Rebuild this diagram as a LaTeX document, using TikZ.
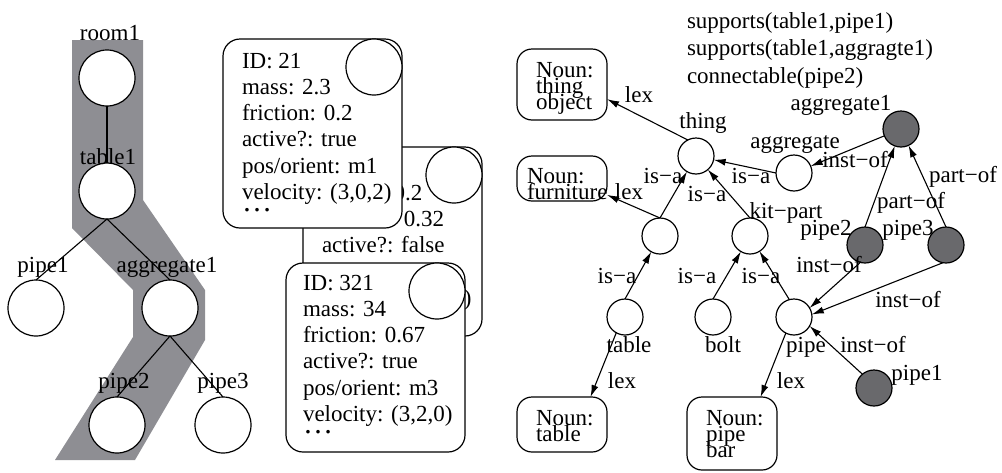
\documentclass[tikz,border=0pt]{standalone}
\usepackage{fontspec}
\setmainfont{Liberation Serif}
\usetikzlibrary{arrows.meta}
\definecolor{band}{RGB}{142,142,147}
\definecolor{dark}{RGB}{105,105,108}
\newcommand{\tightlines}{\lineskiplimit=-100pt\relax}
\newcommand{\mydots}{{\fontsize{30}{30}\selectfont\ldots}}
\begin{document}
\begin{tikzpicture}[x=1pt,y=-1pt,
  every node/.style={inner sep=0pt, outer sep=0pt},
  txt/.style={font=\fontsize{23}{26.3}\selectfont\tightlines},
  lbl/.style={txt, anchor=base},
  bigc/.style={circle, draw, fill=white, line width=1.2pt, minimum size=56pt},
  smc/.style={circle, draw, fill=white, line width=1.2pt, minimum size=36pt},
  dkc/.style={smc, fill=dark},
  card/.style={draw, fill=white, rounded corners=17pt, line width=1.2pt, minimum width=179pt, minimum height=189pt, anchor=north west},
  cardtxt/.style={txt, align=left, anchor=base west},
  nbox/.style={draw, rounded corners=15pt, line width=1.2pt, minimum width=90pt, anchor=north west},
  ntxt/.style={font=\fontsize{23}{16}\selectfont\tightlines, align=left, anchor=base west},
  facts/.style={font=\fontsize{23}{27.5}\selectfont\tightlines, align=left, anchor=base west},
  arr/.style={-{Latex[length=12pt,width=7pt]}, line width=1.1pt},
  ln/.style={line width=1.1pt}
]
\useasboundingbox (0,0) rectangle (1002,472);

% ---------- left tree ----------
\fill[band] (72,40) -- (143,40) -- (143,200) -- (205,290) -- (205,340) -- (135,460)
  -- (55,460) -- (133,337) -- (133,290) -- (72,228) -- cycle;

\node[bigc] (room1) at (107,78) {};
\node[bigc] (table1) at (107,191) {};
\node[bigc] (pipe1L) at (36,308) {};
\node[bigc] (agg1L) at (170,308) {};
\node[bigc] (pipe2L) at (117,425) {};
\node[bigc] (pipe3L) at (223,425) {};

\draw[ln] (room1.south) -- (table1.north);
\draw[ln] (table1.south) -- (pipe1L.north);
\draw[ln] (table1.south) -- (agg1L.north);
\draw[ln] (agg1L.south) -- (pipe2L.north);
\draw[ln] (agg1L.south) -- (pipe3L.north);

\node[lbl] (lroom1) at (110,40) {room1};
\node[lbl] (ltable1) at (108,164) {table1};
\node[lbl] (lpipe1L) at (43,272) {pipe1};
\node[lbl] (lagg1L) at (167,272) {aggregate1};
\node[lbl] (lpipe2L) at (124,388) {pipe2};
\node[lbl] (lpipe3L) at (223,388) {pipe3};

% ---------- cards ----------
\node[card] (cardB) at (303,147) {};
\node[cardtxt] (cardBtxt) at (322,317.5) {ID: 18\\mass: 10.2\\friction: 0.32\\active?: false\\pos/orient: m2\\velocity: (3,0,2)\\[-14.3pt]\mydots};
\node[bigc] (cardBc) at (454,175) {};

\node[card] (cardA) at (223,39) {};
\node[cardtxt] (cardAtxt) at (242,211.5) {ID: 21\\mass: 2.3\\friction: 0.2\\active?: true\\pos/orient: m1\\velocity: (3,0,2)\\[-14.3pt]\mydots};
\node[bigc] (cardAc) at (374,67) {};

\node[card] (cardC) at (286,263) {};
\node[cardtxt] (cardCtxt) at (303,433.5) {ID: 321\\mass: 34\\friction: 0.67\\active?: true\\pos/orient: m3\\velocity: (3,2,0)\\[-14.3pt]\mydots};
\node[bigc] (cardCc) at (437,291) {};

% ---------- right graph ----------
\node[nbox, minimum height=71pt] (nthing) at (517,49) {};
\node[ntxt] (nthingt) at (536,109) {Noun:\\thing\\object};
\node[nbox, minimum height=45pt] (nfurn) at (517,156) {};
\node[ntxt] (nfurnt) at (527,199) {Noun:\\furniture};
\node[nbox, minimum height=55pt] (ntable) at (517,397) {};
\node[ntxt] (ntablet) at (536,441) {Noun:\\table};
\node[nbox, minimum height=73pt] (npipe) at (687,397) {};
\node[ntxt] (npipet) at (706,457) {Noun:\\pipe\\bar};

\node[smc] (thing) at (696,156) {};
\node[smc] (agg) at (794,173) {};
\node[dkc] (agg1) at (901,129) {};
\node[smc] (lm) at (660,236) {};
\node[smc] (kit) at (750,236) {};
\node[dkc] (pipe2) at (865,245) {};
\node[dkc] (pipe3) at (946,245) {};
\node[smc] (table) at (625,317) {};
\node[smc] (bolt) at (713,317) {};
\node[smc] (pipe) at (794,317) {};
\node[dkc] (pipe1) at (874,388) {};

\draw[arr] (thing.117) -- (nthing.-18);
\draw[arr] (lm.north) -- (nfurn.-20);
\draw[arr] (lm.north) -- (thing);
\draw[arr] (kit.north) -- (thing);
\draw[arr] (agg.west) -- (thing);
\draw[arr] (table.north) -- (lm);
\draw[arr] (bolt.north) -- (kit);
\draw[arr] (pipe.105) -- (kit);
\draw[arr] (pipe.-117) -- (npipe.52.5);
\draw[arr] (table.-119) -- (ntable.44.5);
\draw[arr] (agg1) -- (agg);
\draw[arr] (pipe2.north) -- (agg1);
\draw[arr] (pipe3.north) -- (agg1);
\draw[arr] (pipe2.-105) -- (pipe.30);
\draw[arr] (pipe3.-100) -- (pipe.8);
\draw[arr] (pipe1.130) -- (pipe.-30);

% node labels
\node[lbl] (lthing) at (703,128) {thing};
\node[lbl] (lagg) at (795,148) {aggregate};
\node[lbl] (lagg1) at (841,110) {aggregate1};
\node[lbl] (lkit) at (786,218) {kit−part};
\node[lbl] (lpipe2) at (826,235) {pipe2};
\node[lbl] (lpipe3) at (908,235) {pipe3};
\node[lbl] (ltable) at (629,352) {table};
\node[lbl] (lbolt) at (723,352) {bolt};
\node[lbl] (lpipe) at (806,352) {pipe};
\node[lbl] (lpipe1) at (917,380) {pipe1};

% edge labels
\node[lbl] (e1) at (639,102) {lex};
\node[lbl] (e2) at (629,199) {lex};
\node[lbl] (e3) at (663,183) {is−a};
\node[lbl] (e4) at (707,201) {is−a};
\node[lbl] (e5) at (751,183) {is−a};
\node[lbl] (e6) at (617,283) {is−a};
\node[lbl] (e7) at (697,283) {is−a};
\node[lbl] (e8) at (761,283) {is−a};
\node[lbl] (e9) at (622,388) {lex};
\node[lbl] (e10) at (791,388) {lex};
\node[lbl] (e11) at (855,167) {inst−of};
\node[lbl] (e12) at (911,208) {part−of};
\node[lbl] (e13) at (963,182) {part−of};
\node[lbl] (e14) at (829,272) {inst−of};
\node[lbl] (e15) at (908,307) {inst−of};
\node[lbl] (e16) at (873,352) {inst−of};

\node[facts] (facts) at (687,83) {supports(table1,pipe1)\\supports(table1,aggragte1)\\connectable(pipe2)};
\end{tikzpicture}
\end{document}
